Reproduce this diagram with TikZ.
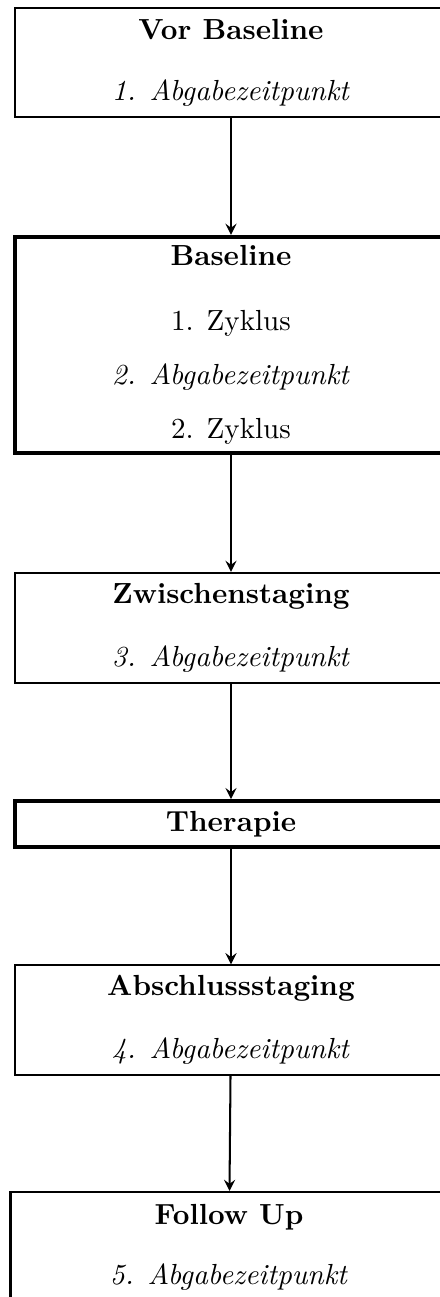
\documentclass[tikz,border=0pt]{standalone}
\usepackage{tikz}
\usetikzlibrary{shapes,arrows,positioning}

\begin{document}
\begin{tikzpicture}[x=0.344pt, y=-0.344pt]
	\tikzstyle{Phase}	= [rectangle, draw, line width=0.75pt, align=center, minimum width=148.5pt, inner sep=0pt]
	\tikzstyle{Heavy}	= [line width=1.45pt]
	\tikzstyle{Flow}	= [-stealth, line width=0.7pt]

	\useasboundingbox (0,0) rectangle (440,1297);
	\clip (0,0) rectangle (440,1297);

	\node (vor) at (231,62.5) [Phase, minimum height=37.5pt]
		{\textbf{Vor Baseline}\\[9pt]\textit{1. Abgabezeitpunkt}};
	\node (base) at (231,345) [Phase, Heavy, minimum height=74.3pt]
		{\textbf{Baseline}\\[10.4pt]1. Zyklus\\[6.6pt]\textit{2. Abgabezeitpunkt}\\[6.6pt]2. Zyklus};
	\node (zwischen) at (231,628) [Phase, minimum height=37.8pt]
		{\textbf{Zwischenstaging}\\[9.7pt]\textit{3. Abgabezeitpunkt}};
	\node (therapie) at (231,824) [Phase, Heavy, minimum height=15.6pt]
		{\textbf{Therapie}};
	\node (abschluss) at (231,1020) [Phase, minimum height=37.6pt]
		{\textbf{Abschlussstaging}\\[9.7pt]\textit{4. Abgabezeitpunkt}};
	\node (follow) at (229,1247) [Phase, minimum width=150.3pt, minimum height=37.8pt]
		{\textbf{Follow Up}\\[8.6pt]\textit{5. Abgabezeitpunkt}};

	\foreach \a/\b in {vor/base, base/zwischen, zwischen/therapie, therapie/abschluss, abschluss/follow}
		\draw [Flow] (\a) -- (\b);
\end{tikzpicture}
\end{document}
